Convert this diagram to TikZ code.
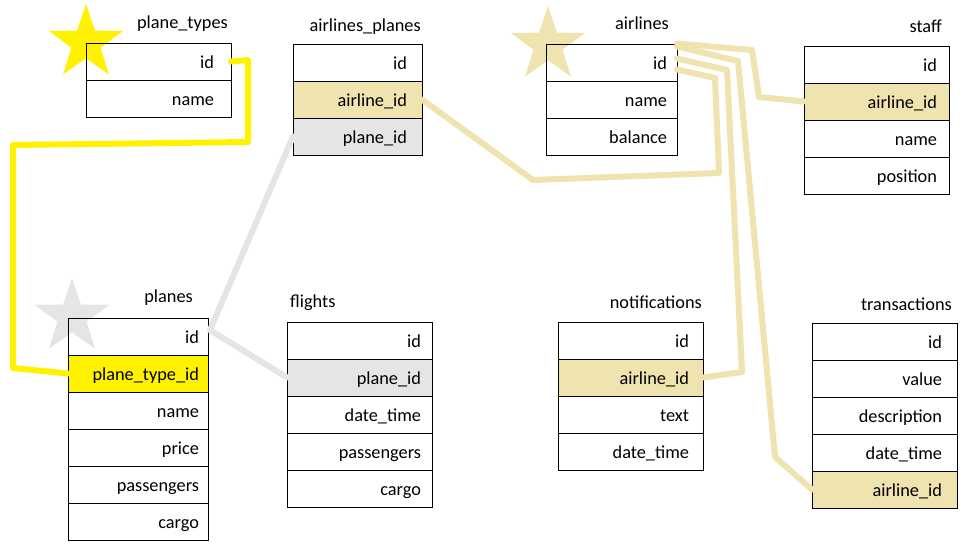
\documentclass[tikz,border=0pt]{standalone}
\usepackage{fontspec}
\setmainfont{Carlito}
\usetikzlibrary{shapes.geometric}
\definecolor{tanc}{RGB}{239,228,176}
\definecolor{greyc}{RGB}{229,229,229}
\definecolor{yelc}{RGB}{255,242,0}
\tikzset{
  cell/.style={draw=black, line width=1pt, minimum height=37pt, anchor=north west, outer sep=0pt,
    align=right, inner ysep=0pt, text height=15pt, text depth=2pt, font=\fontsize{18.3}{22}\selectfont},
  tblt/.style={anchor=base east, inner sep=0pt, font=\fontsize{18.3}{22}\selectfont},
  tbltw/.style={anchor=base west, inner sep=0pt, font=\fontsize{18.3}{22}\selectfont},
  bigstar/.style={star, star points=5, star point ratio=2.55, inner sep=0pt, minimum size=78pt},
  link/.style={line width=6pt, line join=round, line cap=round},
  ptt/.style={cell, text width=111pt, inner xsep=17pt, minimum width=145pt},
  apt/.style={cell, text width=99pt, inner xsep=15pt, minimum width=129pt},
  alt/.style={cell, text width=111pt, inner xsep=10pt, minimum width=131pt},
  stt/.style={cell, text width=121pt, inner xsep=12pt, minimum width=145pt},
  plt/.style={cell, text width=122pt, inner xsep=9pt, minimum width=140pt},
  flt/.style={cell, text width=123pt, inner xsep=11pt, minimum width=145pt},
  not/.style={cell, text width=117pt, inner xsep=14pt, minimum width=145pt},
  trt/.style={cell, text width=115pt, inner xsep=15pt, minimum width=145pt},
}
\begin{document}
\begin{tikzpicture}[x=1pt, y=-1pt]
\useasboundingbox (0,0) rectangle (967,550);
\fill[white] (0,0) rectangle (967,550);

% stars
\node[bigstar, fill=yelc] (star1) at (86,43) {};
\node[bigstar, fill=tanc] (star2) at (548,45) {};
\node[bigstar, fill=greyc] (star3) at (72,317) {};

% plane_types
\node[tblt] (t-pt) at (228,28) {plane\_types};
\node[ptt] (pt-id) at (86,43) {id};
\node[ptt] (pt-name) at (86,80) {name};

% airlines_planes
\node[tblt] (t-ap) at (421,31) {airlines\_planes};
\node[apt] (ap-id) at (293,44) {id};
\node[apt, fill=tanc] (ap-aid) at (293,81) {airline\_id};
\node[apt, fill=greyc] (ap-pid) at (293,118) {plane\_id};

% airlines
\node[tblt] (t-al) at (669,29) {airlines};
\node[alt] (al-id) at (546,44) {id};
\node[alt] (al-name) at (546,81) {name};
\node[alt] (al-bal) at (546,118) {balance};

% staff
\node[tblt] (t-st) at (942,32) {staff};
\node[stt] (st-id) at (804,46) {id};
\node[stt, fill=tanc] (st-aid) at (804,83) {airline\_id};
\node[stt] (st-name) at (804,120) {name};
\node[stt] (st-pos) at (804,157) {position};

% planes
\node[tblt] (t-pl) at (193,302) {planes};
\node[plt] (pl-id) at (68,318) {id};
\node[plt, fill=yelc] (pl-ptid) at (68,355) {plane\_type\_id};
\node[plt] (pl-name) at (68,392) {name};
\node[plt] (pl-price) at (68,429) {price};
\node[plt] (pl-pass) at (68,466) {passengers};
\node[plt] (pl-cargo) at (68,503) {cargo};

% flights
\node[tbltw] (t-fl) at (290,307) {flights};
\node[flt] (fl-id) at (287,322) {id};
\node[flt, fill=greyc] (fl-pid) at (287,359) {plane\_id};
\node[flt] (fl-dt) at (287,396) {date\_time};
\node[flt] (fl-pass) at (287,433) {passengers};
\node[flt] (fl-cargo) at (287,470) {cargo};

% notifications
\node[tblt] (t-no) at (702,308) {notifications};
\node[not] (no-id) at (558,322) {id};
\node[not, fill=tanc] (no-aid) at (558,359) {airline\_id};
\node[not] (no-text) at (558,396) {text};
\node[not] (no-dt) at (558,433) {date\_time};

% transactions
\node[tblt] (t-tr) at (952,310) {transactions};
\node[trt] (tr-id) at (812,323) {id};
\node[trt] (tr-val) at (812,360) {value};
\node[trt] (tr-desc) at (812,397) {description};
\node[trt] (tr-dt) at (812,434) {date\_time};
\node[trt, fill=tanc] (tr-aid) at (812,471) {airline\_id};

% connectors
\draw[link, yelc] (pt-id.east) -- (248,60) -- (248,142) -- (13,145) -- (13,368) -- (pl-ptid.west);
\draw[link, greyc] (ap-pid.west) -- (210,330) -- (fl-pid.west);
\draw[link, tanc] ([yshift=19pt]al-id.east) -- (752,50) -- (759,97) -- (st-aid.west);
\draw[link, tanc] ([yshift=16pt]al-id.east) -- (738,61) -- (775,457) -- (tr-aid.west);
\draw[link, tanc] ([yshift=4pt]al-id.east) -- (727,70) -- (742,372) -- (no-aid.east);
\draw[link, tanc] ([yshift=-7pt]al-id.east) -- (715,78) -- (719,173) -- (533,180) -- (ap-aid.east);
\end{tikzpicture}
\end{document}
